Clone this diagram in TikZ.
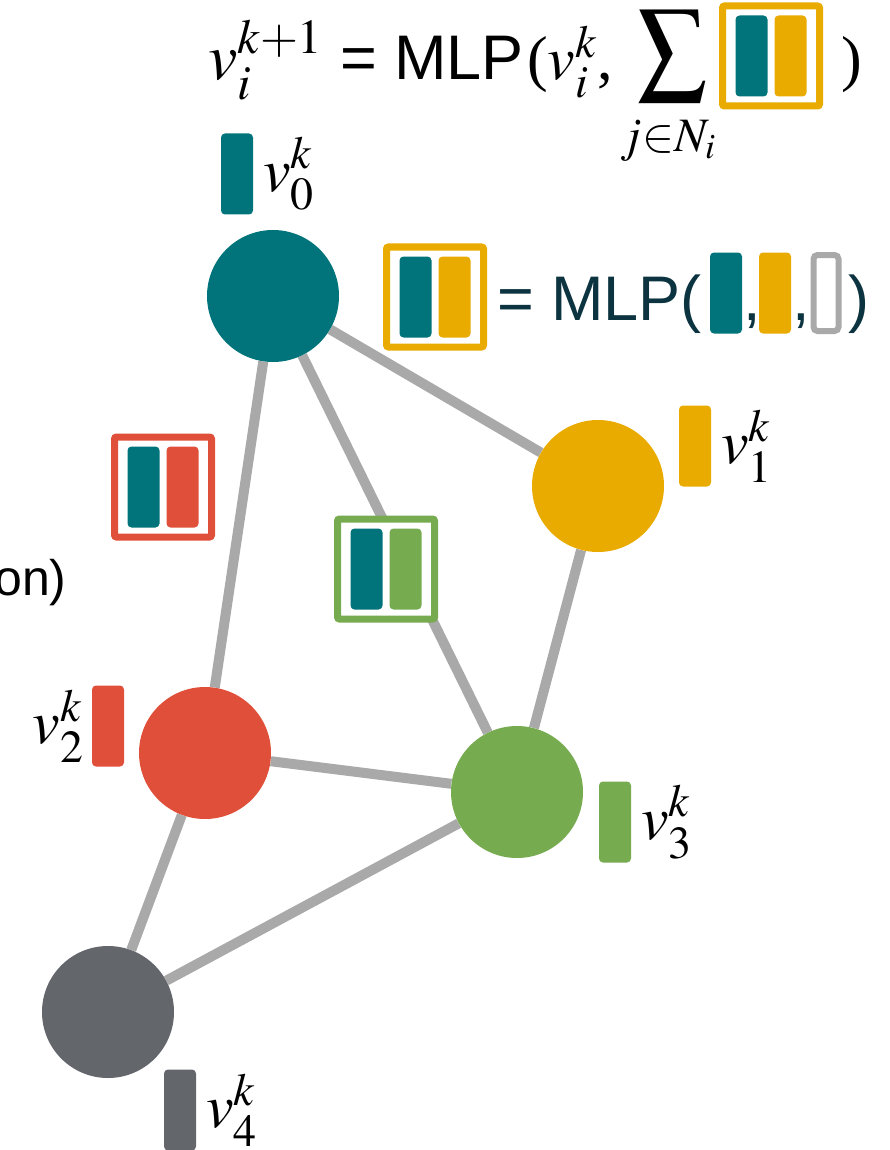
\documentclass[tikz,border=0pt]{standalone}
\usepackage{graphicx}
\usepackage{mathptmx}
\usepackage{fontspec}
\setmainfont{Liberation Serif}
\setsansfont{Liberation Sans}
\usetikzlibrary{positioning, backgrounds}

\definecolor{gnnteal}{HTML}{00747A}
\definecolor{gnnyellow}{HTML}{E9AB00}
\definecolor{gnnred}{HTML}{E04F39}
\definecolor{gnngreen}{HTML}{76AB50}
\definecolor{gnngray}{HTML}{63666A}
\definecolor{edgegray}{HTML}{A9A9A9}
\definecolor{darkslate}{HTML}{0B3340}

\begin{document}
\begin{tikzpicture}[
        x=1pt, y=-1pt,
        vertex/.style={circle, fill=#1, minimum size=132pt, inner sep=0pt},
        feat/.style={rectangle, rounded corners=4pt, fill=#1, minimum width=32pt, minimum height=81pt, inner sep=0pt},
        msgframe/.style={draw=#1, line width=7pt, fill=white, rounded corners=2pt, minimum width=97pt, minimum height=100pt, inner sep=0pt},
        link/.style={draw=edgegray, line width=10pt},
        lab/.style={font=\fontsize{62}{62}\selectfont, inner sep=0pt},
        sans/.style={font=\sffamily\fontsize{63}{63}\selectfont, inner sep=0pt}
    ]
        \useasboundingbox (0,0) rectangle (889,1150);

        % Graph nodes
        \node[vertex=gnnteal] (v0) at (273,296) {};
        \node[vertex=gnnyellow] (v1) at (598,486) {};
        \node[vertex=gnnred] (v2) at (205,753) {};
        \node[vertex=gnngreen] (v3) at (517,792) {};
        \node[vertex=gnngray] (v4) at (108,1012) {};

        % Edges
        \begin{scope}[on background layer]
            \foreach \a/\b in {v0/v1, v0/v2, v0/v3, v1/v3, v2/v3, v2/v4, v3/v4}
                \draw[link] (\a) -- (\b);
        \end{scope}

        % Node features
        \node[feat=gnnteal] (f0) at (237,174) {};
        \node[feat=gnnyellow] (f1) at (695,446) {};
        \node[feat=gnnred] (f2) at (108,726) {};
        \node[feat=gnngreen] (f3) at (615,822) {};
        \node[feat=gnngray] (f4) at (180,1110) {};
        \node[lab, right=10pt of f0] (l0) {$v_0^k$};
        \node[lab, right=10pt of f1] (l1) {$v_1^k$};
        \node[lab, left=8pt of f2] (l2) {$v_2^k$};
        \node[lab, right=10pt of f3] (l3) {$v_3^k$};
        \node[lab, right=10pt of f4] (l4) {$v_4^k$};

        % Messages
        \foreach \name/\x/\y/\col in {mr/163/487/gnnred, mg/386/569/gnngreen, my/435/297/gnnyellow, ms/771/56/gnnyellow} {
            \node[msgframe=\col] (\name) at (\x,\y) {};
            \node[feat=gnnteal] (\name-a) at ([xshift=-19.5pt]\name.center) {};
            \node[feat=\col] (\name-b) at ([xshift=19.5pt]\name.center) {};
        }

        % Message function
        \node[sans, text=darkslate, anchor=base west] (mlp) at (497,320) {= MLP(};
        \node[feat=gnnteal] (a1) at (726,293) {};
        \node[sans, text=darkslate, anchor=base west] (c1) at (743,320) {,};
        \node[feat=gnnyellow] (a2) at (775,293) {};
        \node[sans, text=darkslate, anchor=base west] (c2) at (792,320) {,};
        \node[feat=white, draw=edgegray, line width=6pt, minimum width=25pt, minimum height=76pt] (a3) at (826,293) {};
        \node[sans, text=darkslate, anchor=base west] (c3) at (848,320) {)};

        % Update function
        \node[font=\fontsize{66}{66}\selectfont, inner sep=0pt, anchor=base west] (upd) at (208,80) {$v_i^{k+1}$};
        \node[sans, anchor=base west] (updmlp) at (340,80) {= MLP};
        \node[lab, anchor=base west] (updarg) at (527,80) {($v_i^k$,};
        \node[inner sep=0pt] (sum) at (672,56) {\resizebox*{70pt}{92pt}{$\displaystyle\sum$}};
        \node[font=\fontsize{48}{48}\selectfont, inner sep=0pt] (sumlim) at (668,141) {$j{\in}N_i$};
        \node[lab, anchor=base west] (updend) at (841,80) {)};

        % Cut-off text
        \node[font=\sffamily\fontsize{50}{50}\selectfont, inner sep=0pt, anchor=base west] (cut) at (-6,595) {on)};
    \end{tikzpicture}
\end{document}
